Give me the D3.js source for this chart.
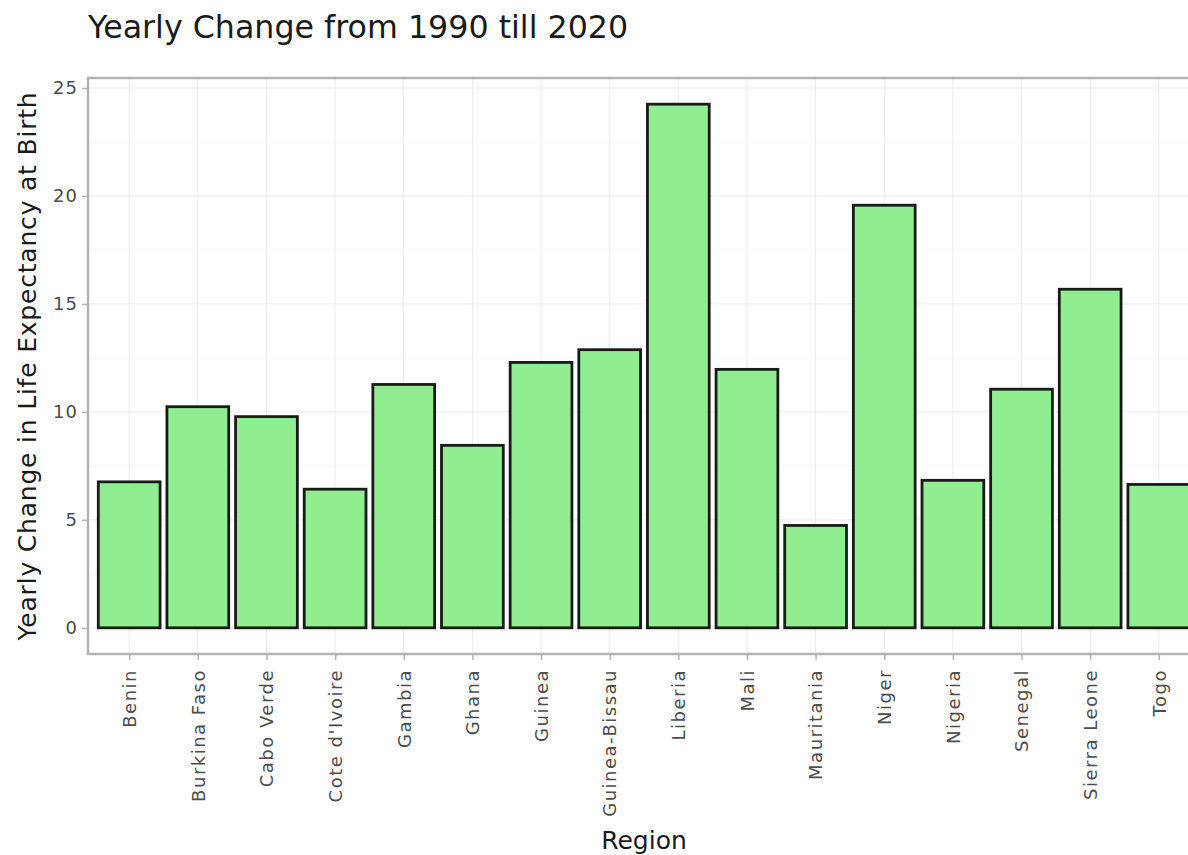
<!DOCTYPE html>
<html><head><meta charset="utf-8">
<script src="https://cdn.jsdelivr.net/npm/d3@7"></script>
<style>body{margin:0;background:#fff}svg{display:block}text{font-family:"DejaVu Sans",Verdana,sans-serif}</style>
</head><body><svg id="c" width="1188" height="855"></svg>
<script>
const regions = ["Benin","Burkina Faso","Cabo Verde","Cote d'Ivoire","Gambia","Ghana","Guinea","Guinea-Bissau","Liberia","Mali","Mauritania","Niger","Nigeria","Senegal","Sierra Leone","Togo"];
const changes = [6.76,10.24,9.78,6.42,11.27,8.45,12.29,12.88,24.25,11.97,4.74,19.57,6.83,11.05,15.68,6.64];
const yTicks = [0,5,10,15,20,25];

const svg = d3.select("#c");
const L = 88, R = 1200, T = 78, B = 654;
const yMax = d3.max(changes), ySpan = yMax;
const y = d3.scaleLinear().domain([-0.05*ySpan, yMax + 0.05*ySpan]).range([B, T]);
const n = regions.length;
const xp = d3.scalePoint().domain(regions).range([L + (R-L)*0.6/(n-1+1.2), R - (R-L)*0.6/(n-1+1.2)]);
const step = xp.step();
const bw = step*0.9;

const g = svg.append("g");
// grid
g.selectAll(".gy").data(yTicks).join("line").attr("x1",L).attr("x2",R).attr("y1",d=>y(d)).attr("y2",d=>y(d)).attr("stroke","#ebebeb").attr("stroke-width",1);
g.selectAll(".gym").data(yTicks.slice(0,-1).map(d=>d+2.5)).join("line").attr("x1",L).attr("x2",R).attr("y1",d=>y(d)).attr("y2",d=>y(d)).attr("stroke","#f5f5f5").attr("stroke-width",0.6);
g.selectAll(".gx").data(regions).join("line").attr("x1",d=>xp(d)).attr("x2",d=>xp(d)).attr("y1",T).attr("y2",B).attr("stroke","#ebebeb").attr("stroke-width",1);

// bars
g.selectAll(".bar").data(regions).join("rect")
  .attr("x",d=>xp(d)-bw/2).attr("width",bw)
  .attr("y",(d,i)=>y(changes[i])).attr("height",(d,i)=>y(0)-y(changes[i]))
  .attr("fill","#90ee90").attr("stroke","#1a1a1a").attr("stroke-width",2.8);

// panel border
g.append("rect").attr("x",L).attr("y",T).attr("width",R-L).attr("height",B-T).attr("fill","none").attr("stroke","#b3b3b3").attr("stroke-width",2.5);

// y axis
const ya = svg.append("g").attr("transform",`translate(${L-1},0)`).call(d3.axisLeft(y).tickValues(yTicks).tickSize(5).tickPadding(4));
ya.select(".domain").remove();
ya.selectAll("line").attr("stroke","#b3b3b3").attr("stroke-width",1.5);
ya.selectAll("text").attr("fill","#4d4d4d").style("font-size","18px").style("letter-spacing","1px");

// x axis
const xa = svg.append("g").attr("transform",`translate(0,${B+1})`).call(d3.axisBottom(xp).tickSize(5).tickPadding(3));
xa.select(".domain").remove();
xa.selectAll("line").attr("stroke","#b3b3b3").attr("stroke-width",1.5);
xa.selectAll("text").attr("fill","#4d4d4d").style("font-size","18px").style("letter-spacing","1.5px")
  .attr("transform","rotate(-90)").attr("text-anchor","end").attr("dy","0.35em").attr("x",-14).attr("y",0);

// titles
svg.append("text").attr("x",88).attr("y",38).attr("fill","#1a1a1a").style("font-size","31.7px").text("Yearly Change from 1990 till 2020");
svg.append("text").attr("x",(L+R)/2).attr("y",849).attr("text-anchor","middle").attr("fill","#1a1a1a").style("font-size","25px").text("Region");
svg.append("text").attr("transform",`translate(36,${(T+B)/2}) rotate(-90)`).attr("text-anchor","middle").attr("fill","#1a1a1a").style("font-size","25px").style("letter-spacing","0.8px").text("Yearly Change in Life Expectancy at Birth");
</script></body></html>
